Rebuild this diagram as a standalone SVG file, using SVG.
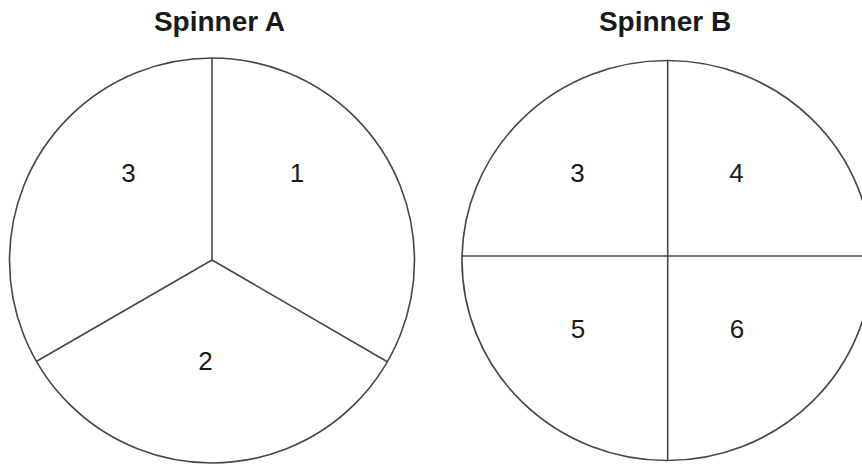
<svg xmlns="http://www.w3.org/2000/svg" width="862" height="465" viewBox="0 0 862 465">
<style>
.edge{fill:none;stroke:#4a4545;stroke-width:1.6}
.title{font-family:"Liberation Sans",Arial,sans-serif;font-weight:bold;font-size:28px;fill:#1a1a1a;text-anchor:middle}
.num{font-family:"Liberation Sans",Arial,sans-serif;font-size:26px;fill:#1a1a1a;text-anchor:middle}
</style>
<rect width="862" height="465" fill="#ffffff"/>
<g id="spinnerA">
<text class="title" x="219.5" y="30.5">Spinner A</text>
<circle class="edge" cx="212" cy="260.5" r="202.5"/>
<text class="num" x="128.5" y="181.5">3</text>
<text class="num" x="297" y="181.5">1</text>
<text class="num" x="205.5" y="369.5">2</text>
</g>
<g id="spinnerB">
<text class="title" x="665" y="30.5">Spinner B</text>
<ellipse class="edge" cx="667" cy="260.5" rx="205" ry="200"/>
<text class="num" x="577.5" y="181.5">3</text>
<text class="num" x="736.5" y="181.5">4</text>
<text class="num" x="578" y="338">5</text>
<text class="num" x="737" y="338">6</text>
</g>
<g id="connectors">
<line class="edge" x1="212" y1="58" x2="212" y2="260"/>
<line class="edge" x1="212" y1="260" x2="36.7" y2="361.3"/>
<line class="edge" x1="212" y1="260" x2="387.3" y2="361.7"/>
<line class="edge" x1="667.7" y1="60.5" x2="667.7" y2="460.5"/>
<line class="edge" x1="462" y1="256" x2="872" y2="256"/>
</g>
</svg>
